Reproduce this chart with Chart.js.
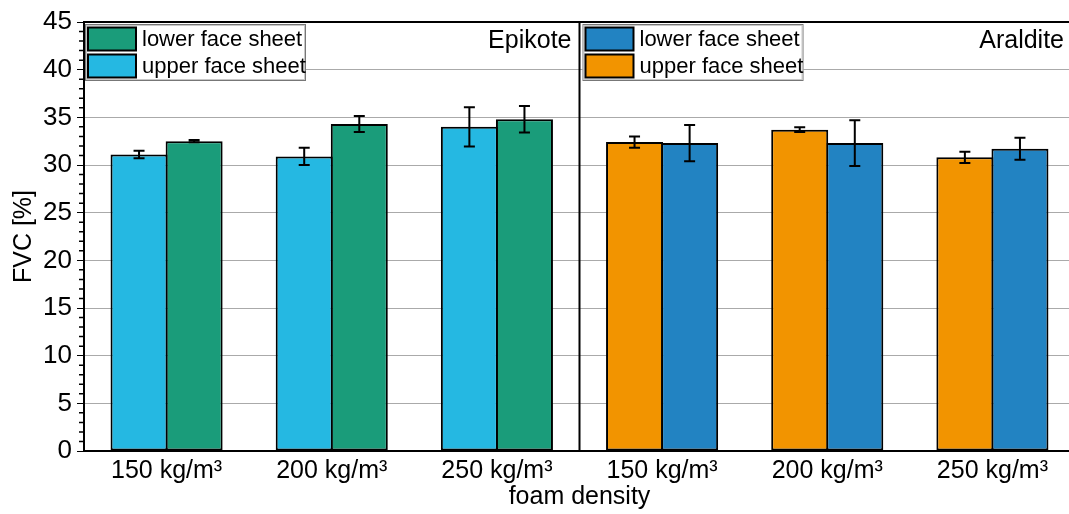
<!DOCTYPE html>
<html>
<head>
<meta charset="utf-8">
<script src="https://cdn.jsdelivr.net/npm/chart.js@4"></script>
<style>
  html, body { margin: 0; padding: 0; overflow: hidden; background: #fff; }
</style>
</head>
<body>
<canvas id="fvc" width="1078" height="514"></canvas>
<script>
// foam density categories, first three Epikote, last three Araldite
const categories = ['150 kg/m³', '200 kg/m³', '250 kg/m³', '150 kg/m³', '200 kg/m³', '250 kg/m³'];
const panels = ['Epikote', 'Araldite'];

// FVC [%]
const upperValues = [31.1, 30.9, 34.0, 32.4, 33.7, 30.8];
const upperErrors = [0.4, 0.9, 2.05, 0.6, 0.25, 0.6];
const lowerValues = [32.5, 34.3, 34.8, 32.3, 32.3, 31.7];
const lowerErrors = [0.12, 0.85, 1.4, 1.9, 2.4, 1.15];

const yTicks = [0, 5, 10, 15, 20, 25, 30, 35, 40, 45];

const FONT = "'Liberation Sans', Arial, sans-serif";
const upperColors = ['#25b8e2', '#25b8e2', '#25b8e2', '#f29400', '#f29400', '#f29400'];
const lowerColors = ['#1a9c7a', '#1a9c7a', '#1a9c7a', '#2283c2', '#2283c2', '#2283c2'];

const errors = [upperErrors, lowerErrors];

function dividerX(chart) {
    const x = chart.scales.x;
    return (x.getPixelForValue(2) + x.getPixelForValue(3)) / 2;
}

function drawLegend(ctx, left, top, items) {
    ctx.save();
    ctx.fillStyle = '#fff';
    ctx.fillRect(left, top, 221, 57);
    ctx.strokeStyle = '#777';
    ctx.lineWidth = 1;
    ctx.strokeRect(left + 0.5, top + 0.5, 220, 56);
    ctx.strokeStyle = '#c8c8c8';
    ctx.strokeRect(left + 1.5, top + 1.5, 218, 54);
    items.forEach((it, i) => {
        const y = top + 3.5 + i * 27;
        ctx.fillStyle = it.color;
        ctx.fillRect(left + 3, y, 48, 23);
        ctx.strokeStyle = '#000';
        ctx.lineWidth = 2;
        ctx.strokeRect(left + 3, y, 48, 23);
        ctx.fillStyle = '#000';
        ctx.font = '22px ' + FONT;
        ctx.textBaseline = 'middle';
        ctx.textAlign = 'left';
        ctx.fillText(it.label, left + 57, y + 12);
    });
    ctx.restore();
}

const decorations = {
    id: 'decorations',
    afterDatasetsDraw(chart) {
        const ctx = chart.ctx;
        const y = chart.scales.y;
        ctx.save();
        // error bars
        ctx.strokeStyle = '#000';
        ctx.lineWidth = 2;
        chart.data.datasets.forEach((ds, di) => {
            const meta = chart.getDatasetMeta(di);
            meta.data.forEach((bar, i) => {
                const v = ds.data[i];
                const e = errors[di][i];
                const yTop = y.getPixelForValue(v + e);
                const yBot = y.getPixelForValue(v - e);
                ctx.beginPath();
                ctx.moveTo(bar.x, yTop);
                ctx.lineTo(bar.x, yBot);
                ctx.moveTo(bar.x - 5.5, yTop);
                ctx.lineTo(bar.x + 5.5, yTop);
                ctx.moveTo(bar.x - 5.5, yBot);
                ctx.lineTo(bar.x + 5.5, yBot);
                ctx.stroke();
            });
        });
        ctx.restore();
    },
    afterDraw(chart) {
        const ctx = chart.ctx;
        const y = chart.scales.y;
        const area = chart.chartArea;
        const dx = dividerX(chart);
        ctx.save();
        ctx.strokeStyle = '#000';
        ctx.lineWidth = 2;
        // top frame and panel divider
        ctx.beginPath();
        ctx.moveTo(area.left - 1, area.top);
        ctx.lineTo(area.right, area.top);
        ctx.moveTo(dx, area.top);
        ctx.lineTo(dx, area.bottom);
        ctx.stroke();
        // minor ticks
        ctx.lineWidth = 1.5;
        ctx.beginPath();
        for (let v = 1; v < 45; v++) {
            if (v % 5 === 0) continue;
            const py = y.getPixelForValue(v);
            ctx.moveTo(area.left - 5, py);
            ctx.lineTo(area.left, py);
        }
        ctx.stroke();
        // panel names
        ctx.fillStyle = '#000';
        ctx.font = '25px ' + FONT;
        ctx.textAlign = 'right';
        ctx.textBaseline = 'middle';
        ctx.fillText(panels[0], dx - 8, area.top + 19);
        ctx.fillText(panels[1], 1064, area.top + 19);
        ctx.restore();
        drawLegend(ctx, area.left + 1, area.top + 2, [
            { label: 'lower face sheet', color: lowerColors[0] },
            { label: 'upper face sheet', color: upperColors[0] }
        ]);
        drawLegend(ctx, dx + 3, area.top + 2, [
            { label: 'lower face sheet', color: lowerColors[3] },
            { label: 'upper face sheet', color: upperColors[3] }
        ]);
    }
};

new Chart(document.getElementById('fvc'), {
    type: 'bar',
    data: {
        labels: categories,
        datasets: [
            {
                label: 'upper face sheet',
                data: upperValues,
                backgroundColor: upperColors,
                borderColor: '#000',
                borderWidth: 2,
                borderSkipped: false
            },
            {
                label: 'lower face sheet',
                data: lowerValues,
                backgroundColor: lowerColors,
                borderColor: '#000',
                borderWidth: 2,
                borderSkipped: false
            }
        ]
    },
    options: {
        responsive: false,
        animation: false,
        devicePixelRatio: 1,
        layout: { padding: { left: 0, top: 22, right: 3, bottom: 0 } },
        categoryPercentage: 0.667,
        barPercentage: 1.035,
        plugins: {
            legend: { display: false },
            tooltip: { enabled: false }
        },
        scales: {
            x: {
                afterFit(s) { s.height = 63; },
                grid: { display: true, color: 'rgba(0,0,0,0)', drawTicks: false },
                border: { display: true, color: '#000', width: 2 },
                ticks: { color: '#000', font: { family: FONT, size: 25 }, padding: 5, maxRotation: 0, autoSkip: false },
                title: {
                    display: true,
                    text: 'foam density',
                    color: '#000',
                    font: { family: FONT, size: 25 },
                    padding: { top: 0, bottom: 2 }
                }
            },
            y: {
                min: 0,
                max: 45,
                afterFit(s) { s.width = 84; },
                afterBuildTicks(s) { s.ticks = yTicks.map(v => ({ value: v })); },
                grid: {
                    color: c => (c.tick && c.tick.value > 0 && c.tick.value < 45) ? '#aaa' : 'rgba(0,0,0,0)',
                    tickColor: '#000',
                    tickLength: 7,
                    lineWidth: 1
                },
                border: { display: true, color: '#000', width: 2 },
                ticks: { color: '#000', font: { family: FONT, size: 26 }, padding: 5 },
                title: {
                    display: true,
                    text: 'FVC [%]',
                    color: '#000',
                    font: { family: FONT, size: 25 },
                    padding: { top: 9, bottom: 0 }
                }
            }
        }
    },
    plugins: [decorations]
});
</script>
</body>
</html>
